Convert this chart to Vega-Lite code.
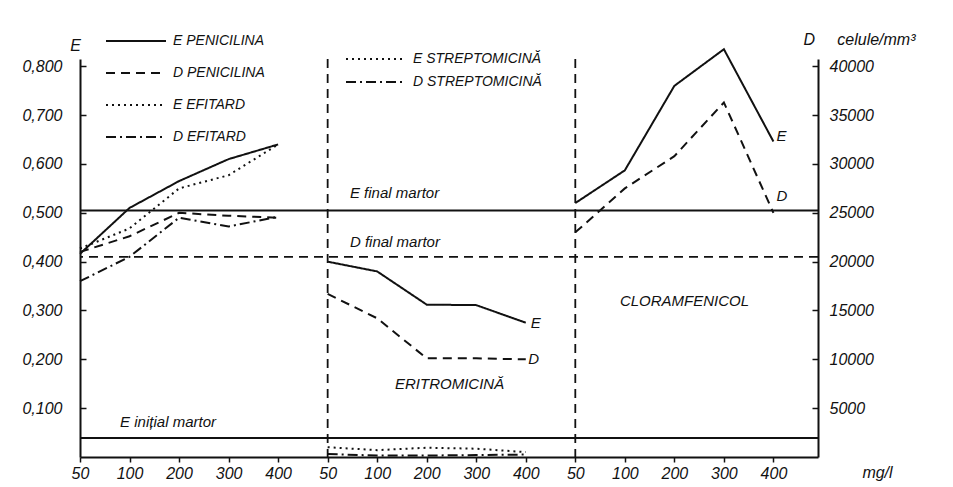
{
  "$schema": "https://vega.github.io/schema/vega-lite/v6.json",
  "width": 738,
  "height": 398,
  "autosize": {"type": "none"},
  "padding": {"left": 80, "top": 59, "right": 135, "bottom": 30},
  "background": "white",
  "config": {
    "view": {"stroke": null},
    "font": "Liberation Sans",
    "axis": {
      "grid": false,
      "labelFont": "Liberation Sans",
      "labelFontStyle": "italic",
      "labelFontSize": 16,
      "labelColor": "#111",
      "labelFlush": false,
      "labelOverlap": false,
      "domainColor": "#111",
      "domainWidth": 2,
      "tickColor": "#111",
      "tickWidth": 1.5,
      "titleFont": "Liberation Sans",
      "titleFontStyle": "italic",
      "titleFontWeight": "normal",
      "titleFontSize": 16,
      "titleColor": "#111"
    },
    "legend": {
      "labelFont": "Liberation Sans",
      "labelFontStyle": "italic",
      "labelFontSize": 14,
      "labelColor": "#111"
    }
  },
  "datasets": {
    "curves": [
      {"curve": "PENICILINA E", "measure": "E", "slot": 0, "dose": 50, "value": 0.416},
      {"curve": "PENICILINA E", "measure": "E", "slot": 1, "dose": 100, "value": 0.51},
      {"curve": "PENICILINA E", "measure": "E", "slot": 2, "dose": 200, "value": 0.565},
      {"curve": "PENICILINA E", "measure": "E", "slot": 3, "dose": 300, "value": 0.61},
      {"curve": "PENICILINA E", "measure": "E", "slot": 4, "dose": 400, "value": 0.64},
      {"curve": "PENICILINA D", "measure": "D", "slot": 0, "dose": 50, "value": 21000},
      {"curve": "PENICILINA D", "measure": "D", "slot": 1, "dose": 100, "value": 22600},
      {"curve": "PENICILINA D", "measure": "D", "slot": 2, "dose": 200, "value": 25000},
      {"curve": "PENICILINA D", "measure": "D", "slot": 3, "dose": 300, "value": 24700},
      {"curve": "PENICILINA D", "measure": "D", "slot": 4, "dose": 400, "value": 24500},
      {"curve": "EFITARD E", "measure": "E", "slot": 0, "dose": 50, "value": 0.427},
      {"curve": "EFITARD E", "measure": "E", "slot": 1, "dose": 100, "value": 0.468},
      {"curve": "EFITARD E", "measure": "E", "slot": 2, "dose": 200, "value": 0.55},
      {"curve": "EFITARD E", "measure": "E", "slot": 3, "dose": 300, "value": 0.577},
      {"curve": "EFITARD E", "measure": "E", "slot": 4, "dose": 400, "value": 0.64},
      {"curve": "EFITARD D", "measure": "D", "slot": 0, "dose": 50, "value": 18000},
      {"curve": "EFITARD D", "measure": "D", "slot": 1, "dose": 100, "value": 20500},
      {"curve": "EFITARD D", "measure": "D", "slot": 2, "dose": 200, "value": 24500},
      {"curve": "EFITARD D", "measure": "D", "slot": 3, "dose": 300, "value": 23600},
      {"curve": "EFITARD D", "measure": "D", "slot": 4, "dose": 400, "value": 24600},
      {"curve": "ERITROMICINĂ E", "measure": "E", "slot": 5, "dose": 50, "value": 0.4},
      {"curve": "ERITROMICINĂ E", "measure": "E", "slot": 6, "dose": 100, "value": 0.38},
      {"curve": "ERITROMICINĂ E", "measure": "E", "slot": 7, "dose": 200, "value": 0.312},
      {"curve": "ERITROMICINĂ E", "measure": "E", "slot": 8, "dose": 300, "value": 0.311},
      {"curve": "ERITROMICINĂ E", "measure": "E", "slot": 9, "dose": 400, "value": 0.275},
      {"curve": "ERITROMICINĂ D", "measure": "D", "slot": 5, "dose": 50, "value": 16700},
      {"curve": "ERITROMICINĂ D", "measure": "D", "slot": 6, "dose": 100, "value": 14200},
      {"curve": "ERITROMICINĂ D", "measure": "D", "slot": 7, "dose": 200, "value": 10100},
      {"curve": "ERITROMICINĂ D", "measure": "D", "slot": 8, "dose": 300, "value": 10100},
      {"curve": "ERITROMICINĂ D", "measure": "D", "slot": 9, "dose": 400, "value": 10000},
      {"curve": "STREPTOMICINĂ E", "measure": "E", "slot": 5, "dose": 50, "value": 0.02},
      {"curve": "STREPTOMICINĂ E", "measure": "E", "slot": 6, "dose": 100, "value": 0.014},
      {"curve": "STREPTOMICINĂ E", "measure": "E", "slot": 7, "dose": 200, "value": 0.019},
      {"curve": "STREPTOMICINĂ E", "measure": "E", "slot": 8, "dose": 300, "value": 0.017},
      {"curve": "STREPTOMICINĂ E", "measure": "E", "slot": 9, "dose": 400, "value": 0.01},
      {"curve": "STREPTOMICINĂ D", "measure": "D", "slot": 5, "dose": 50, "value": 300},
      {"curve": "STREPTOMICINĂ D", "measure": "D", "slot": 6, "dose": 100, "value": 150},
      {"curve": "STREPTOMICINĂ D", "measure": "D", "slot": 7, "dose": 200, "value": 150},
      {"curve": "STREPTOMICINĂ D", "measure": "D", "slot": 8, "dose": 300, "value": 200},
      {"curve": "STREPTOMICINĂ D", "measure": "D", "slot": 9, "dose": 400, "value": 250},
      {"curve": "CLORAMFENICOL E", "measure": "E", "slot": 10, "dose": 50, "value": 0.52},
      {"curve": "CLORAMFENICOL E", "measure": "E", "slot": 11, "dose": 100, "value": 0.587},
      {"curve": "CLORAMFENICOL E", "measure": "E", "slot": 12, "dose": 200, "value": 0.76},
      {"curve": "CLORAMFENICOL E", "measure": "E", "slot": 13, "dose": 300, "value": 0.835},
      {"curve": "CLORAMFENICOL E", "measure": "E", "slot": 14, "dose": 400, "value": 0.646},
      {"curve": "CLORAMFENICOL D", "measure": "D", "slot": 10, "dose": 50, "value": 23000},
      {"curve": "CLORAMFENICOL D", "measure": "D", "slot": 11, "dose": 100, "value": 27500},
      {"curve": "CLORAMFENICOL D", "measure": "D", "slot": 12, "dose": 200, "value": 30800},
      {"curve": "CLORAMFENICOL D", "measure": "D", "slot": 13, "dose": 300, "value": 36300},
      {"curve": "CLORAMFENICOL D", "measure": "D", "slot": 14, "dose": 400, "value": 25000}
    ],
    "controls": [
      {"line": "E final martor", "measure": "E", "value": 0.505},
      {"line": "E inițial martor", "measure": "E", "value": 0.039},
      {"line": "D final martor", "measure": "D", "value": 20500}
    ],
    "separators": [{"slot": 5}, {"slot": 10}],
    "notes": [
      {"slot": 5.45, "value": 0.54, "text": "E final martor"},
      {"slot": 5.45, "value": 0.44, "text": "D final martor"},
      {"slot": 0.81, "value": 0.071, "text": "E inițial martor"},
      {"slot": 6.36, "value": 0.15, "text": "ERITROMICINĂ"},
      {"slot": 10.9, "value": 0.319, "text": "CLORAMFENICOL"},
      {"slot": 9.1, "value": 0.274, "text": "E"},
      {"slot": 9.05, "value": 0.2, "text": "D"},
      {"slot": 14.06, "value": 0.657, "text": "E"},
      {"slot": 14.06, "value": 0.534, "text": "D"}
    ]
  },
  "layer": [
    {
      "data": {"name": "curves"},
      "transform": [{"filter": "datum.measure === 'E' && datum.curve !== 'STREPTOMICINĂ E'"}],
      "mark": {"type": "line", "color": "#111", "strokeWidth": 2},
      "encoding": {
        "x": {"field": "slot", "type": "quantitative", "scale": {"domain": [0, 14.9], "nice": false, "zero": false}, "axis": {"values": [0,1,2,3,4,5,6,7,8,9,10,11,12,13,14], "labelExpr": "['50','100','200','300','400'][datum.value % 5]", "tickSize": 5, "labelPadding": 3, "title": "mg/l", "titleX": 797, "titleY": 15, "titleAlign": "center", "titleBaseline": "middle"}},
        "y": {"field": "value", "type": "quantitative", "scale": {"domain": [0, 0.815], "nice": false}, "axis": {"orient": "left", "values": [0.1,0.2,0.3,0.4,0.5,0.6,0.7,0.8], "labelExpr": "replace(format(datum.value, '.3f'), '.', ',')", "tickSize": -6, "labelPadding": 24, "title": "E", "titleAngle": 0, "titleX": -5, "titleY": -14, "titleAlign": "center", "titleBaseline": "middle"}},
        "strokeDash": {
          "field": "curve", "type": "nominal",
          "scale": {"domain": ["PENICILINA E","PENICILINA D","EFITARD E","EFITARD D","ERITROMICINĂ E","ERITROMICINĂ D","CLORAMFENICOL E","CLORAMFENICOL D"], "range": [[1,0],[9,6],[2,4],[10,4,2,4],[1,0],[9,6],[1,0],[9,6]]},
          "legend": {"orient": "none", "legendX": 25, "legendY": -29, "title": null, "values": ["PENICILINA E","PENICILINA D","EFITARD E","EFITARD D"], "symbolType": "M-1,0H5", "symbolSize": 400, "symbolStrokeWidth": 2, "symbolStrokeColor": "#111", "rowPadding": 14, "labelOffset": 46, "labelExpr": "split(datum.label, ' ')[1] + '  ' + split(datum.label, ' ')[0]"}
        }
      }
    },
    {
      "data": {"name": "curves"},
      "transform": [{"filter": "datum.measure === 'D' && datum.curve !== 'STREPTOMICINĂ D'"}],
      "mark": {"type": "line", "color": "#111", "strokeWidth": 2},
      "encoding": {
        "x": {"field": "slot", "type": "quantitative", "scale": {"domain": [0, 14.9], "nice": false, "zero": false}, "axis": {"values": [0,1,2,3,4,5,6,7,8,9,10,11,12,13,14], "labelExpr": "['50','100','200','300','400'][datum.value % 5]", "tickSize": 5, "labelPadding": 3, "title": "mg/l", "titleX": 797, "titleY": 15, "titleAlign": "center", "titleBaseline": "middle"}},
        "y": {"field": "value", "type": "quantitative", "scale": {"domain": [0, 40750], "nice": false}, "axis": {"orient": "right", "values": [5000,10000,15000,20000,25000,30000,35000,40000], "format": "d", "tickSize": -6, "labelPadding": 17, "title": "D\u00a0\u00a0\u00a0\u00a0\u00a0celule/mm³", "titleAngle": 0, "titleX": -15, "titleY": -20, "titleAlign": "left", "titleBaseline": "middle"}},
        "strokeDash": {
          "field": "curve", "type": "nominal",
          "scale": {"domain": ["PENICILINA E","PENICILINA D","EFITARD E","EFITARD D","ERITROMICINĂ E","ERITROMICINĂ D","CLORAMFENICOL E","CLORAMFENICOL D"], "range": [[1,0],[9,6],[2,4],[10,4,2,4],[1,0],[9,6],[1,0],[9,6]]},
          "legend": null
        }
      }
    },
    {
      "data": {"name": "curves"},
      "transform": [{"filter": "datum.curve === 'STREPTOMICINĂ E'"}],
      "mark": {"type": "line", "color": "#111", "strokeWidth": 2},
      "encoding": {
        "x": {"field": "slot", "type": "quantitative", "scale": {"domain": [0, 14.9], "nice": false, "zero": false}, "axis": {"values": [0,1,2,3,4,5,6,7,8,9,10,11,12,13,14], "labelExpr": "['50','100','200','300','400'][datum.value % 5]", "tickSize": 5, "labelPadding": 3, "title": "mg/l", "titleX": 797, "titleY": 15, "titleAlign": "center", "titleBaseline": "middle"}},
        "y": {"field": "value", "type": "quantitative", "scale": {"domain": [0, 0.815], "nice": false}, "axis": null},
        "strokeDash": {
          "field": "curve", "type": "nominal",
          "scale": {"domain": ["STREPTOMICINĂ E","STREPTOMICINĂ D"], "range": [[2,4],[10,4,2,4]]},
          "legend": {"orient": "none", "legendX": 265, "legendY": -11, "title": null, "symbolType": "M-1,0H5", "symbolSize": 400, "symbolStrokeWidth": 2, "symbolStrokeColor": "#111", "rowPadding": 5, "labelOffset": 46, "labelExpr": "split(datum.label, ' ')[1] + '  ' + split(datum.label, ' ')[0]"}
        }
      }
    },
    {
      "data": {"name": "curves"},
      "transform": [{"filter": "datum.curve === 'STREPTOMICINĂ D'"}],
      "mark": {"type": "line", "color": "#111", "strokeWidth": 2},
      "encoding": {
        "x": {"field": "slot", "type": "quantitative", "scale": {"domain": [0, 14.9], "nice": false, "zero": false}, "axis": {"values": [0,1,2,3,4,5,6,7,8,9,10,11,12,13,14], "labelExpr": "['50','100','200','300','400'][datum.value % 5]", "tickSize": 5, "labelPadding": 3, "title": "mg/l", "titleX": 797, "titleY": 15, "titleAlign": "center", "titleBaseline": "middle"}},
        "y": {"field": "value", "type": "quantitative", "scale": {"domain": [0, 40750], "nice": false}, "axis": null},
        "strokeDash": {
          "field": "curve", "type": "nominal",
          "scale": {"domain": ["STREPTOMICINĂ E","STREPTOMICINĂ D"], "range": [[2,4],[10,4,2,4]]},
          "legend": null
        }
      }
    },
    {
      "data": {"name": "controls"},
      "transform": [{"filter": "datum.measure === 'E'"}],
      "mark": {"type": "rule", "color": "#111", "strokeWidth": 2},
      "encoding": {
        "y": {"field": "value", "type": "quantitative", "scale": {"domain": [0, 0.815], "nice": false}, "axis": null}
      }
    },
    {
      "data": {"name": "controls"},
      "transform": [{"filter": "datum.measure === 'D'"}],
      "mark": {"type": "rule", "color": "#111", "strokeWidth": 1.8, "strokeDash": [9, 6]},
      "encoding": {
        "y": {"field": "value", "type": "quantitative", "scale": {"domain": [0, 40750], "nice": false}, "axis": null}
      }
    },
    {
      "data": {"name": "separators"},
      "mark": {"type": "rule", "color": "#111", "strokeWidth": 1.8, "strokeDash": [9, 6]},
      "encoding": {
        "x": {"field": "slot", "type": "quantitative", "scale": {"domain": [0, 14.9], "nice": false, "zero": false}, "axis": {"values": [0,1,2,3,4,5,6,7,8,9,10,11,12,13,14], "labelExpr": "['50','100','200','300','400'][datum.value % 5]", "tickSize": 5, "labelPadding": 3, "title": "mg/l", "titleX": 797, "titleY": 15, "titleAlign": "center", "titleBaseline": "middle"}}
      }
    },
    {
      "data": {"name": "notes"},
      "mark": {"type": "text", "align": "left", "baseline": "middle", "fontSize": 15, "fontStyle": "italic", "font": "Liberation Sans", "color": "#111"},
      "encoding": {
        "x": {"field": "slot", "type": "quantitative", "scale": {"domain": [0, 14.9], "nice": false, "zero": false}, "axis": {"values": [0,1,2,3,4,5,6,7,8,9,10,11,12,13,14], "labelExpr": "['50','100','200','300','400'][datum.value % 5]", "tickSize": 5, "labelPadding": 3, "title": "mg/l", "titleX": 797, "titleY": 15, "titleAlign": "center", "titleBaseline": "middle"}},
        "y": {"field": "value", "type": "quantitative", "scale": {"domain": [0, 0.815], "nice": false}, "axis": null},
        "text": {"field": "text"}
      }
    }
  ],
  "resolve": {"scale": {"y": "independent", "strokeDash": "independent"}}
}
